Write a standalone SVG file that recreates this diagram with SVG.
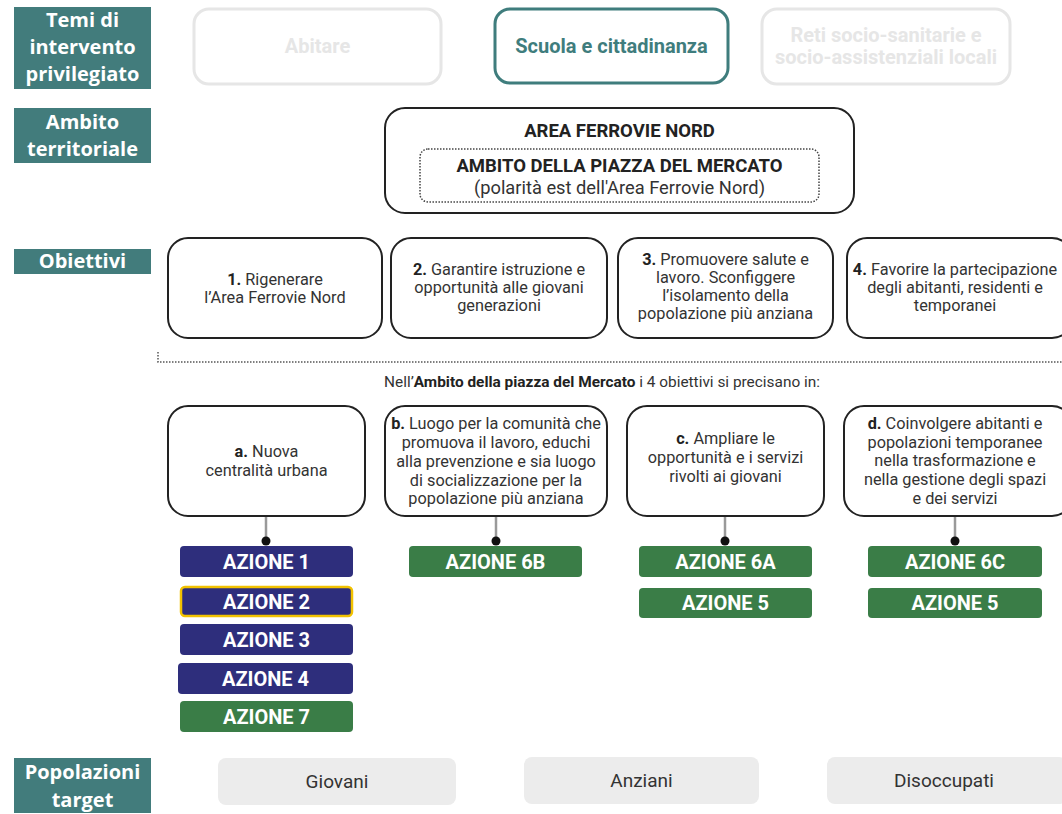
<svg xmlns="http://www.w3.org/2000/svg" width="1062" height="814" viewBox="0 0 1062 814">
<style>
.lab{fill:#427c7c}
.labt{font-family:'Open Sans',sans-serif;font-weight:700;font-size:20px;fill:#fff;text-anchor:middle}
.theme{fill:#fff;stroke:#e6e6e6;stroke-width:3}
.themeOn{fill:#fff;stroke:#3f7d7d;stroke-width:3}
.tt{font-family:Roboto,sans-serif;font-weight:700;font-size:20px;text-anchor:middle}
.box{fill:#fff;stroke:#222;stroke-width:2}
.t{font-family:Roboto,sans-serif;font-size:16.3px;fill:#333;text-anchor:middle}
.b{font-weight:700;fill:#222}
.navy{fill:#2e2e7c}
.green{fill:#3a7d47}
.at{font-family:Roboto,sans-serif;font-weight:700;font-size:20px;fill:#fff;text-anchor:middle}
.pop{fill:#ececec}
.pt{font-family:Roboto,sans-serif;font-size:19px;fill:#333;text-anchor:middle}
.conn{stroke:#9a9a9a;stroke-width:2.5}
</style>
<rect width="1062" height="814" fill="#fff"/>

<g id="label-temi"><rect class="lab" x="14" y="7" width="137" height="82"/>
<text class="labt" x="82.5" y="27">Temi di</text><text class="labt" x="82.5" y="54">intervento</text><text class="labt" x="82.5" y="81">privilegiato</text></g>
<g id="label-ambito"><rect class="lab" x="14" y="108" width="137" height="55"/>
<text class="labt" x="82.5" y="129">Ambito</text><text class="labt" x="82.5" y="156">territoriale</text></g>
<g id="label-obiettivi"><rect class="lab" x="14" y="249" width="137" height="25"/>
<text class="labt" x="82.5" y="268">Obiettivi</text></g>
<g id="label-popolazioni"><rect class="lab" x="14" y="758" width="137" height="55"/>
<text class="labt" x="82.5" y="779">Popolazioni</text><text class="labt" x="82.5" y="807">target</text></g>

<g id="theme-abitare"><rect class="theme" x="194" y="9" width="247" height="75" rx="15"/>
<text class="tt" x="317.5" y="53" fill="#e6e6e6">Abitare</text></g>
<g id="theme-scuola"><rect class="themeOn" x="495" y="9" width="233" height="74" rx="15"/>
<text class="tt" x="611.5" y="53" fill="#3f7d7d">Scuola e cittadinanza</text></g>
<g id="theme-reti"><rect class="theme" x="762" y="9" width="248" height="75" rx="15"/>
<text class="tt" x="886" y="42" fill="#e6e6e6">Reti socio-sanitarie e</text><text class="tt" x="886" y="64" fill="#e6e6e6">socio-assistenziali locali</text></g>

<g id="area-ferrovie"><rect class="box" x="385" y="108" width="469" height="105" rx="20"/>
<text class="t b" x="619.5" y="137" style="font-size:18.5px">AREA FERROVIE NORD</text>
<rect x="420" y="149" width="399" height="53" rx="8" fill="none" stroke="#444" stroke-width="1.5" stroke-dasharray="1.5 1.5"/>
<text class="t b" x="619.5" y="172" style="font-size:18.5px">AMBITO DELLA PIAZZA DEL MERCATO</text>
<text class="t" x="619.5" y="194" style="font-size:18.3px">(polarità est dell'Area Ferrovie Nord)</text></g>

<g id="obj-1"><rect class="box" x="168" y="238" width="214" height="100" rx="20"/>
<text class="t" x="275" y="285"><tspan class="b">1.</tspan> Rigenerare</text><text class="t" x="275" y="303">l’Area Ferrovie Nord</text></g>
<g id="obj-2"><rect class="box" x="391" y="238" width="216" height="100" rx="20"/>
<text class="t" x="499" y="275"><tspan class="b">2.</tspan> Garantire istruzione e</text><text class="t" x="499" y="293">opportunità alle giovani</text><text class="t" x="499" y="311">generazioni</text></g>
<g id="obj-3"><rect class="box" x="618" y="238" width="215" height="100" rx="20"/>
<text class="t" x="725.5" y="265"><tspan class="b">3.</tspan> Promuovere salute e</text><text class="t" x="725.5" y="283">lavoro. Sconfiggere</text><text class="t" x="725.5" y="301">l’isolamento della</text><text class="t" x="725.5" y="319">popolazione più anziana</text></g>
<g id="obj-4"><rect class="box" x="847" y="238" width="225" height="100" rx="20"/>
<text class="t" x="955" y="275"><tspan class="b">4.</tspan> Favorire la partecipazione</text><text class="t" x="955" y="293">degli abitanti, residenti e</text><text class="t" x="955" y="311">temporanei</text></g>

<g id="separator" fill="none" stroke="#555" stroke-width="1.5" stroke-dasharray="1.5 1.5">
<path d="M158 352 V362 H1062"/></g>
<text class="t" x="602" y="387" style="font-size:15.4px">Nell’<tspan class="b">Ambito della piazza del Mercato</tspan> i 4 obiettivi si precisano in:</text>

<g id="connectors">
<line class="conn" x1="266" y1="517" x2="266" y2="541"/><circle cx="266" cy="541" r="4.5" fill="#111"/>
<line class="conn" x1="496" y1="517" x2="496" y2="541"/><circle cx="496" cy="541" r="4.5" fill="#111"/>
<line class="conn" x1="725" y1="517" x2="725" y2="541"/><circle cx="725" cy="541" r="4.5" fill="#111"/>
<line class="conn" x1="955" y1="517" x2="955" y2="541"/><circle cx="955" cy="541" r="4.5" fill="#111"/>
</g>

<g id="spec-a"><rect class="box" x="168" y="406" width="197" height="110" rx="20"/>
<text class="t" x="266.5" y="457"><tspan class="b">a.</tspan> Nuova</text><text class="t" x="266.5" y="476">centralità urbana</text></g>
<g id="spec-b"><rect class="box" x="385" y="406" width="222" height="110" rx="20"/>
<text class="t" x="496" y="429"><tspan class="b">b.</tspan> Luogo per la comunità che</text><text class="t" x="496" y="448">promuova il lavoro, educhi</text><text class="t" x="496" y="467">alla prevenzione e sia luogo</text><text class="t" x="496" y="486">di socializzazione per la</text><text class="t" x="496" y="504">popolazione più anziana</text></g>
<g id="spec-c"><rect class="box" x="627" y="406" width="197" height="110" rx="20"/>
<text class="t" x="725.5" y="444"><tspan class="b">c.</tspan> Ampliare le</text><text class="t" x="725.5" y="463">opportunità e i servizi</text><text class="t" x="725.5" y="482">rivolti ai giovani</text></g>
<g id="spec-d"><rect class="box" x="844" y="406" width="228" height="110" rx="20"/>
<text class="t" x="955" y="429"><tspan class="b">d.</tspan> Coinvolgere abitanti e</text><text class="t" x="955" y="448">popolazioni temporanee</text><text class="t" x="955" y="466">nella trasformazione e</text><text class="t" x="955" y="485">nella gestione degli spazi</text><text class="t" x="955" y="504">e dei servizi</text></g>

<g id="azione-1"><rect class="navy" x="180" y="546" width="173" height="31" rx="4"/><text class="at" x="266.5" y="569">AZIONE 1</text></g>
<g id="azione-2"><rect class="navy" x="181" y="587" width="171" height="29" rx="4" stroke="#f2c200" stroke-width="2.5"/><text class="at" x="266.5" y="609">AZIONE 2</text></g>
<g id="azione-3"><rect class="navy" x="180" y="624" width="173" height="31" rx="4"/><text class="at" x="266.5" y="647">AZIONE 3</text></g>
<g id="azione-4"><rect class="navy" x="178" y="663" width="175" height="31" rx="4"/><text class="at" x="265.5" y="686">AZIONE 4</text></g>
<g id="azione-7"><rect class="green" x="180" y="701" width="173" height="31" rx="4"/><text class="at" x="266.5" y="724">AZIONE 7</text></g>
<g id="azione-6b"><rect class="green" x="409" y="546" width="173" height="31" rx="4"/><text class="at" x="495.5" y="569">AZIONE 6B</text></g>
<g id="azione-6a"><rect class="green" x="639" y="546" width="173" height="31" rx="4"/><text class="at" x="725.5" y="569">AZIONE 6A</text></g>
<g id="azione-5c"><rect class="green" x="639" y="588" width="173" height="30" rx="4"/><text class="at" x="725.5" y="610">AZIONE 5</text></g>
<g id="azione-6c"><rect class="green" x="868" y="546" width="174" height="31" rx="4"/><text class="at" x="955" y="569">AZIONE 6C</text></g>
<g id="azione-5d"><rect class="green" x="868" y="588" width="174" height="30" rx="4"/><text class="at" x="955" y="610">AZIONE 5</text></g>

<g id="pop-giovani"><rect class="pop" x="218" y="758" width="238" height="47" rx="8"/><text class="pt" x="337" y="788">Giovani</text></g>
<g id="pop-anziani"><rect class="pop" x="524" y="757" width="235" height="47" rx="8"/><text class="pt" x="641.5" y="787">Anziani</text></g>
<g id="pop-disoccupati"><rect class="pop" x="827" y="757" width="240" height="47" rx="8"/><text class="pt" x="944" y="787">Disoccupati</text></g>
</svg>
